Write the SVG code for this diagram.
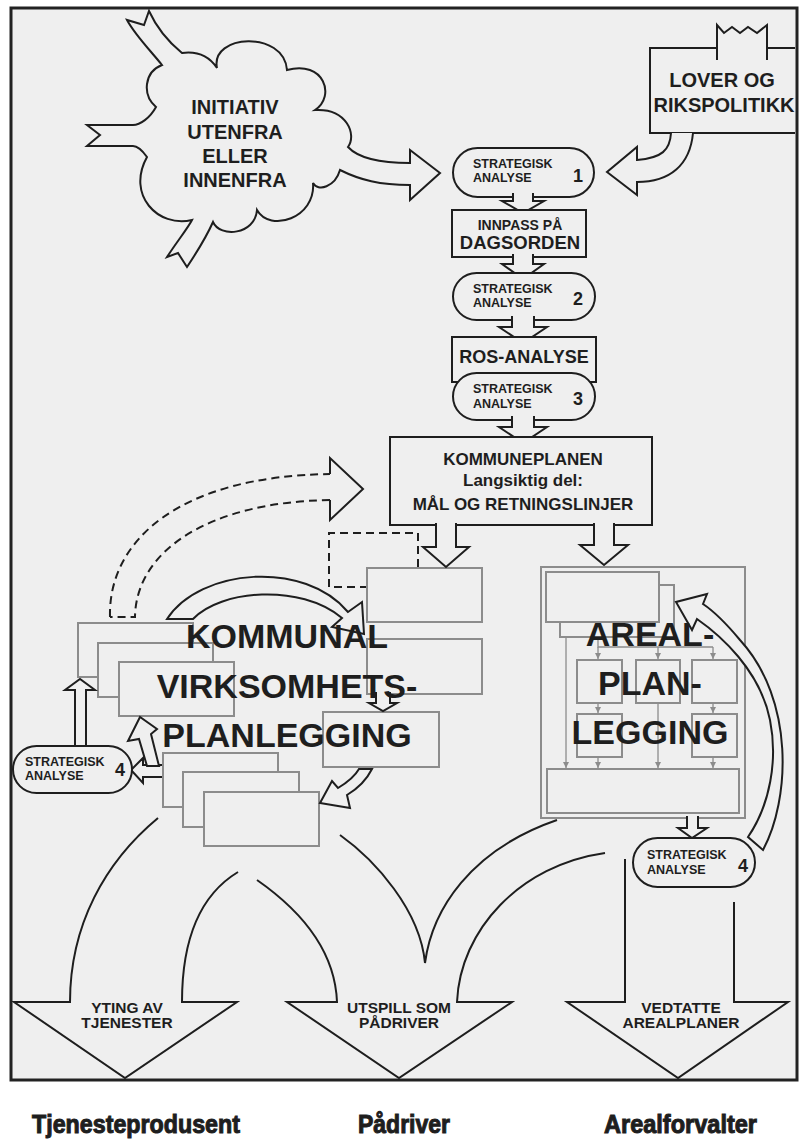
<svg xmlns="http://www.w3.org/2000/svg" width="801" height="1139" viewBox="0 0 801 1139">
<defs>
<style>
.ln{fill:#efefef;stroke:#1e1e1e;stroke-width:2;stroke-linejoin:miter}
.open{fill:none;stroke:#1e1e1e;stroke-width:2}
.gb{fill:#efefef;stroke:#8c8c8c;stroke-width:2}
.thin{fill:none;stroke:#8c8c8c;stroke-width:1.3}
.dash{fill:none;stroke:#1e1e1e;stroke-width:2;stroke-dasharray:8 5}
.t{font-family:"Liberation Sans",Arial,Helvetica,sans-serif;font-weight:bold;fill:#1e1e1e}
.big{font-size:34px;text-anchor:middle}
.c{text-anchor:middle}
.s{font-size:12.5px}
.n{font-size:18px}
.lab{font-family:"Liberation Sans Narrow","Liberation Sans",Arial,sans-serif;font-weight:bold;font-size:25px;fill:#1e1e1e;stroke:#1e1e1e;stroke-width:1}
</style>
<marker id="ga" viewBox="0 0 8 8" refX="8" refY="4" markerWidth="6" markerHeight="6" orient="auto" markerUnits="userSpaceOnUse">
<path d="M0,0 L8,4 L0,8 Z" fill="#8c8c8c"/>
</marker>
</defs>
<rect x="0" y="0" width="801" height="1139" fill="#ffffff"/>
<rect id="frame" x="11" y="8" width="786" height="1072" fill="#efefef" stroke="#222" stroke-width="3"/>

<g id="cloud">
<path class="ln" d="M149,11 Q160,35 182,53 Q205,50 217,68 C210,34 284,30 287,70 C324,60 336,96 315,110 C347,108 357,135 348,147 C360,160 385,163 410,163 L410,150 L440,173 L410,200 L410,185 C380,185 360,180 340,170 C335,187 318,192 313,183 C316,218 270,233 257,210 C255,235 220,238 213,222 C205,240 195,255 187,267 L178,253 L167,257 C178,240 188,228 192,220 C158,228 126,195 147,157 C142,150 138,146 133,146 L87,146 L100,135 L87,125 L133,125 C140,125 150,118 156,107 C142,95 144,72 162,65 C150,50 135,35 127,20 L144,25 Z"/>
<text class="t c" font-size="20" x="235" y="114">INITIATIV</text>
<text class="t c" font-size="20" x="235" y="139">UTENFRA</text>
<text class="t c" font-size="20" x="235" y="163">ELLER</text>
<text class="t c" font-size="20" x="235" y="187">INNENFRA</text>
</g>

<g id="lover">
<path class="ln" d="M795,48 L767,48 M717,48 L650,48 L650,133 L795,133"/>
<path class="open" d="M717,60 L717,25 L724,33 L732,27 L740,33 L748,27 L757,33 L767,25 L767,60"/>
<text class="t c" font-size="20" x="722" y="87">LOVER OG</text>
<text class="t c" font-size="20" x="724" y="112">RIKSPOLITIKK</text>
</g>

<g id="connectors">
<path class="ln" d="M671,133 C670,150 662,158 637,160 L637,147 L607,172 L637,195 L637,182 C670,182 690,165 693,133"/>
<path class="dash" d="M110,617 C108,540 180,476 330,474 M330,500 C210,502 136,550 135,617 L110,617"/>
<path class="open" d="M330,474 L330,458 L363,489 L330,520 L330,500"/>
<path class="dash" d="M418,567 L418,533 L329,533 L329,587 L366,587"/>
</g>

<g id="strat1">
<rect class="ln" x="453" y="148" width="141" height="49" rx="24.5"/>
<text class="t s" x="473" y="168">STRATEGISK</text>
<text class="t s" x="473" y="182">ANALYSE</text>
<text class="t n c" x="578" y="182">1</text>
</g>
<path class="ln" d="M513,193 L513,201 L502,201 L523,213 L544,201 L533,201 L533,193"/>

<g id="innpass">
<rect class="ln" x="452" y="210" width="134" height="47"/>
<text class="t c" font-size="14" x="520" y="230">INNPASS PÅ</text>
<text class="t c" font-size="18.5" x="520" y="249">DAGSORDEN</text>
</g>
<path class="ln" d="M513,254 L513,264 L502,264 L523,279 L544,264 L533,264 L533,254"/>

<g id="strat2">
<rect class="ln" x="453" y="273" width="142" height="47" rx="23.5"/>
<text class="t s" x="473" y="293">STRATEGISK</text>
<text class="t s" x="473" y="307">ANALYSE</text>
<text class="t n c" x="578" y="305">2</text>
</g>
<path class="ln" d="M512,316 L512,327 L499,327 L523,343 L547,327 L534,327 L534,316"/>

<g id="ros">
<rect class="ln" x="452" y="337" width="144" height="45"/>
<text class="t c" font-size="18" x="524" y="363">ROS-ANALYSE</text>
</g>
<g id="strat3">
<rect class="ln" x="453" y="373" width="142" height="47" rx="23.5"/>
<text class="t s" x="473" y="393">STRATEGISK</text>
<text class="t s" x="473" y="408">ANALYSE</text>
<text class="t n c" x="578" y="405">3</text>
</g>
<path class="ln" d="M512,416 L512,427 L499,427 L523,443 L547,427 L534,427 L534,416"/>

<g id="kommuneplanen">
<rect class="ln" x="390" y="437" width="262" height="88"/>
<text class="t c" font-size="17" x="523" y="465">KOMMUNEPLANEN</text>
<text class="t c" font-size="17" x="523" y="486">Langsiktig del:</text>
<text class="t c" font-size="17" x="523" y="510">MÅL OG RETNINGSLINJER</text>
</g>

<g id="kommunal">
<path class="ln" d="M167,619 C200,568 305,560 348,612 L362,602 L364,634 L332,627 L342,618 C300,583 220,590 193,619 Z"/>
<rect class="gb" x="78" y="623" width="115" height="54"/>
<rect class="gb" x="98" y="643" width="115" height="54"/>
<rect class="gb" x="119" y="662" width="115" height="54"/>
<rect class="gb" x="367" y="568" width="115" height="54"/>
<rect class="gb" x="367" y="639" width="115" height="55"/>
<rect class="gb" x="323" y="712" width="116" height="55"/>
<rect class="gb" x="163" y="753" width="115" height="54"/>
<rect class="gb" x="183" y="772" width="116" height="55"/>
<rect class="gb" x="204" y="792" width="115" height="54"/>
<path class="ln" d="M436,523 L436,547 L423,547 L446,567 L469,547 L456,547 L456,523"/>
<path class="ln" d="M376,692 L376,703 L369,703 L383,711 L397,703 L390,703 L390,692"/>
<path class="ln" d="M372,769 C366,781 357,789 347,795 L350,808 L320,803 L332,781 L338,788 C348,782 355,776 359,769 Z"/>
<path class="ln" d="M75,745 L75,690 L65,690 L80,679 L95,690 L86,690 L86,745"/>
<path class="ln" d="M162,765 L143,765 L143,758 L131,770 L143,783 L143,777 L162,777"/>
<path class="ln" d="M147,766 L139,739 L128,741 L140,717 L157,729 L151,734 L159,766 Z"/>
<text class="t big" x="287" y="648">KOMMUNAL</text>
<text class="t big" x="287" y="698">VIRKSOMHETS-</text>
<text class="t big" x="287" y="747">PLANLEGGING</text>
</g>

<g id="strat4left">
<rect class="ln" x="13" y="746" width="119" height="47" rx="23.5"/>
<text class="t s" x="25" y="766">STRATEGISK</text>
<text class="t s" x="25" y="780">ANALYSE</text>
<text class="t n c" x="120" y="776">4</text>
</g>

<g id="areal">
<path class="ln" d="M594,523 L594,545 L580,545 L604,565 L628,545 L614,545 L614,523"/>
<rect class="gb" x="541" y="567" width="204" height="251"/>
<rect class="gb" x="560" y="585" width="114" height="52"/>
<rect class="gb" x="546" y="572" width="113" height="50"/>
<rect class="gb" x="577" y="660" width="45" height="43"/>
<rect class="gb" x="636" y="660" width="44" height="43"/>
<rect class="gb" x="692" y="660" width="45" height="43"/>
<rect class="gb" x="577" y="714" width="45" height="43"/>
<rect class="gb" x="692" y="714" width="45" height="43"/>
<rect class="gb" x="547" y="769" width="192" height="44"/>
<path class="thin" d="M566,637 L566,768" marker-end="url(#ga)"/>
<path class="thin" d="M598,637 L598,647 L713,647"/>
<path class="thin" d="M598,647 L598,659" marker-end="url(#ga)"/>
<path class="thin" d="M658,647 L658,659" marker-end="url(#ga)"/>
<path class="thin" d="M713,647 L713,659" marker-end="url(#ga)"/>
<path class="thin" d="M598,703 L598,713" marker-end="url(#ga)"/>
<path class="thin" d="M713,703 L713,713" marker-end="url(#ga)"/>
<path class="thin" d="M658,703 L658,768" marker-end="url(#ga)"/>
<path class="thin" d="M598,757 L598,768" marker-end="url(#ga)"/>
<path class="thin" d="M713,757 L713,768" marker-end="url(#ga)"/>
<path class="ln" d="M763,850 C790,800 795,700 740,640 C725,622 712,610 703,604 L707,594 L676,602 L692,630 L697,619 C720,635 760,670 770,720 C778,760 770,805 748,837 Z"/>
<path class="ln" d="M687,816 L687,828 L678,828 L692,838 L707,828 L698,828 L698,816"/>
<text class="t big" x="650" y="646">AREAL-</text>
<text class="t big" x="650" y="695">PLAN-</text>
<text class="t big" x="650" y="744">LEGGING</text>
</g>

<g id="strat4right">
<rect class="ln" x="633" y="838" width="122" height="49" rx="24.5"/>
<text class="t s" x="647" y="859">STRATEGISK</text>
<text class="t s" x="647" y="874">ANALYSE</text>
<text class="t n c" x="743" y="872">4</text>
</g>

<g id="outputs">
<path class="open" d="M158,818 C105,862 70,925 70,1002 L14,1002 L125,1078 L237,1002 L182,1002 C182,940 200,895 238,872"/>
<path class="open" d="M257,880 C300,910 335,950 337,1002 L287,1002 L399,1078 L512,1002 L457,1002 C460,930 520,865 605,853"/>
<path class="open" d="M340,835 C375,860 420,910 425,963 C432,910 470,850 557,820"/>
<path class="open" d="M625,859 L625,1002 L567,1002 L678,1078 L788,1002 L734,1002 L734,902"/>
<text class="t c" font-size="15.5" x="127" y="1013">YTING AV</text>
<text class="t c" font-size="15.5" x="127" y="1028">TJENESTER</text>
<text class="t c" font-size="15.5" x="399" y="1013">UTSPILL SOM</text>
<text class="t c" font-size="15.5" x="399" y="1028">PÅDRIVER</text>
<text class="t c" font-size="15.5" x="681" y="1013">VEDTATTE</text>
<text class="t c" font-size="15.5" x="681" y="1028">AREALPLANER</text>
</g>

<g id="roles">
<text class="lab" x="32" y="1133" textLength="208" lengthAdjust="spacingAndGlyphs">Tjenesteprodusent</text>
<text class="lab" x="358" y="1133" textLength="92" lengthAdjust="spacingAndGlyphs">Pådriver</text>
<text class="lab" x="604" y="1133" textLength="153" lengthAdjust="spacingAndGlyphs">Arealforvalter</text>
</g>
</svg>
